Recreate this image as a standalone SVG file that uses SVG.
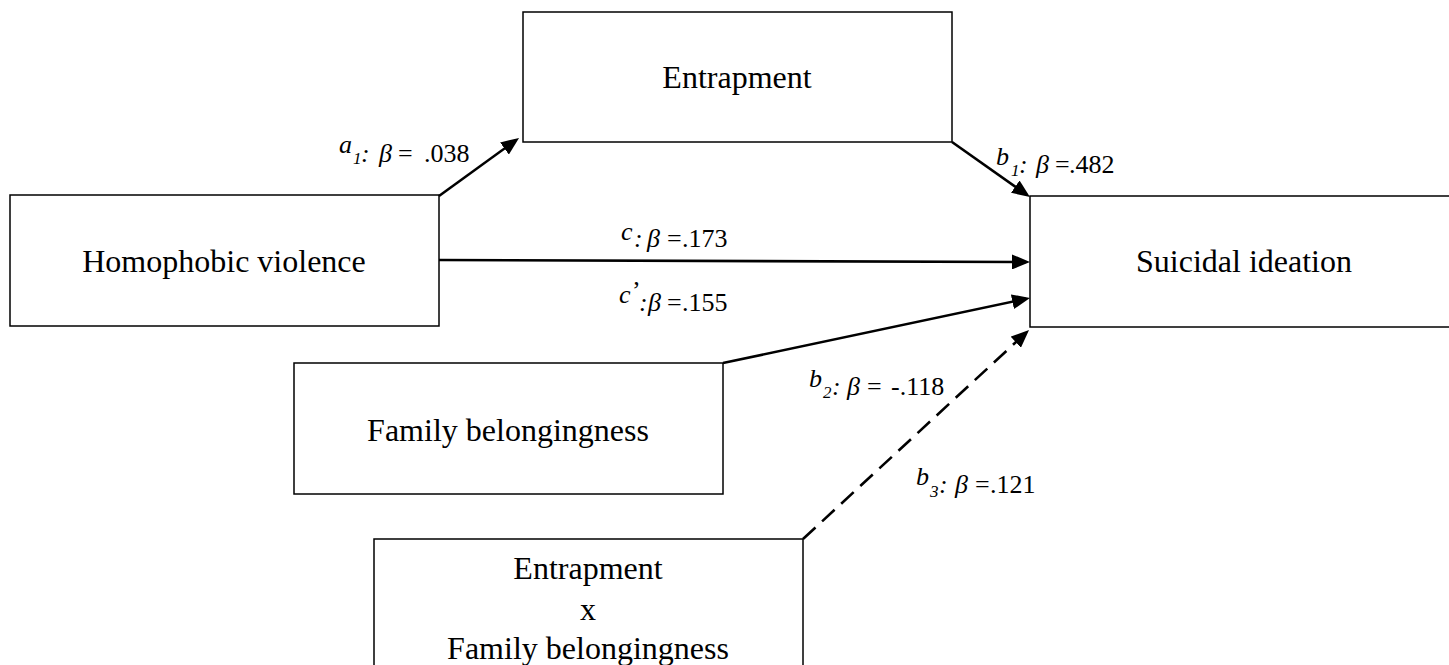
<svg xmlns="http://www.w3.org/2000/svg" width="1449" height="665" viewBox="0 0 1449 665">
<style>
.box{fill:#fff;stroke:#000;stroke-width:1.5}
.nt{font-family:"Liberation Serif","Times New Roman",serif;font-size:32px;fill:#000;text-anchor:middle}
.lb{font-family:"Liberation Serif","Times New Roman",serif;font-size:26px;fill:#000}
.it{font-style:italic}
.sub{font-size:17px;font-style:italic}
.con{fill:none;stroke:#000;stroke-width:2.6;marker-end:url(#ah)}
.dash{stroke-dasharray:17 9}
</style>
<defs>
<marker id="ah" viewBox="0 0 18 15" refX="14" refY="7.5" markerWidth="18" markerHeight="15" markerUnits="userSpaceOnUse" orient="auto">
<path d="M0,0 L18,7.5 L0,15 z" fill="#000" stroke="none"/>
</marker>
</defs>
<rect width="1449" height="665" fill="#fff"/>
<g id="node-entrapment">
<rect class="box" x="523" y="12" width="429" height="130"/>
<text class="nt" x="737" y="88">Entrapment</text>
</g>
<g id="node-homophobic">
<rect class="box" x="10" y="195" width="429" height="131"/>
<text class="nt" x="224" y="272">Homophobic violence</text>
</g>
<g id="node-suicidal">
<rect class="box" x="1030" y="196" width="429" height="131"/>
<text class="nt" x="1244" y="272">Suicidal ideation</text>
</g>
<g id="node-family">
<rect class="box" x="294" y="363" width="429" height="131"/>
<text class="nt" x="508" y="441">Family belongingness</text>
</g>
<g id="node-interaction">
<rect class="box" x="374" y="539" width="429" height="140"/>
<text class="nt" x="588" y="579">Entrapment</text>
<text class="nt" x="588" y="620">x</text>
<text class="nt" x="588" y="659">Family belongingness</text>
</g>
<g id="connectors">
<line class="con" x1="439" y1="196" x2="515.8" y2="140.3"/>
<line class="con" x1="952" y1="142" x2="1026.7" y2="194.7"/>
<line class="con" x1="439" y1="260" x2="1026" y2="262"/>
<line class="con" x1="723" y1="363" x2="1026.1" y2="298.8"/>
<line class="con dash" x1="803" y1="539" x2="1026.1" y2="332.7"/>
</g>
<g id="labels">
<text class="lb"><tspan class="it" x="339" y="153">a</tspan><tspan class="sub" x="353" y="164">1</tspan><tspan class="it" x="361" y="162">:</tspan><tspan class="it" x="379" y="162">β</tspan><tspan x="398" y="162">=</tspan><tspan x="424" y="162">.038</tspan></text>
<text class="lb"><tspan class="it" x="996" y="165">b</tspan><tspan class="sub" x="1011" y="176">1</tspan><tspan class="it" x="1019" y="173">:</tspan><tspan class="it" x="1036" y="173">β</tspan><tspan x="1055" y="173">=</tspan><tspan x="1069" y="173">.482</tspan></text>
<text class="lb"><tspan class="it" x="621" y="240">c</tspan><tspan class="it" x="634" y="247">:</tspan><tspan class="it" x="647" y="247">β</tspan><tspan x="667" y="247">=</tspan><tspan x="682" y="247">.173</tspan></text>
<text class="lb"><tspan class="it" x="619" y="303">c</tspan><tspan x="632" y="299">’</tspan><tspan class="it" x="639" y="311">:</tspan><tspan class="it" x="648" y="311">β</tspan><tspan x="667" y="311">=</tspan><tspan x="682" y="311">.155</tspan></text>
<text class="lb"><tspan class="it" x="809" y="387">b</tspan><tspan class="sub" x="823" y="398">2</tspan><tspan class="it" x="832" y="395">:</tspan><tspan class="it" x="847" y="395">β</tspan><tspan x="867" y="395">=</tspan><tspan x="891" y="395">-.118</tspan></text>
<text class="lb"><tspan class="it" x="916" y="485">b</tspan><tspan class="sub" x="930" y="497">3</tspan><tspan class="it" x="939" y="493">:</tspan><tspan class="it" x="955" y="493">β</tspan><tspan x="975" y="493">=</tspan><tspan x="990" y="493">.121</tspan></text>
</g>
</svg>
